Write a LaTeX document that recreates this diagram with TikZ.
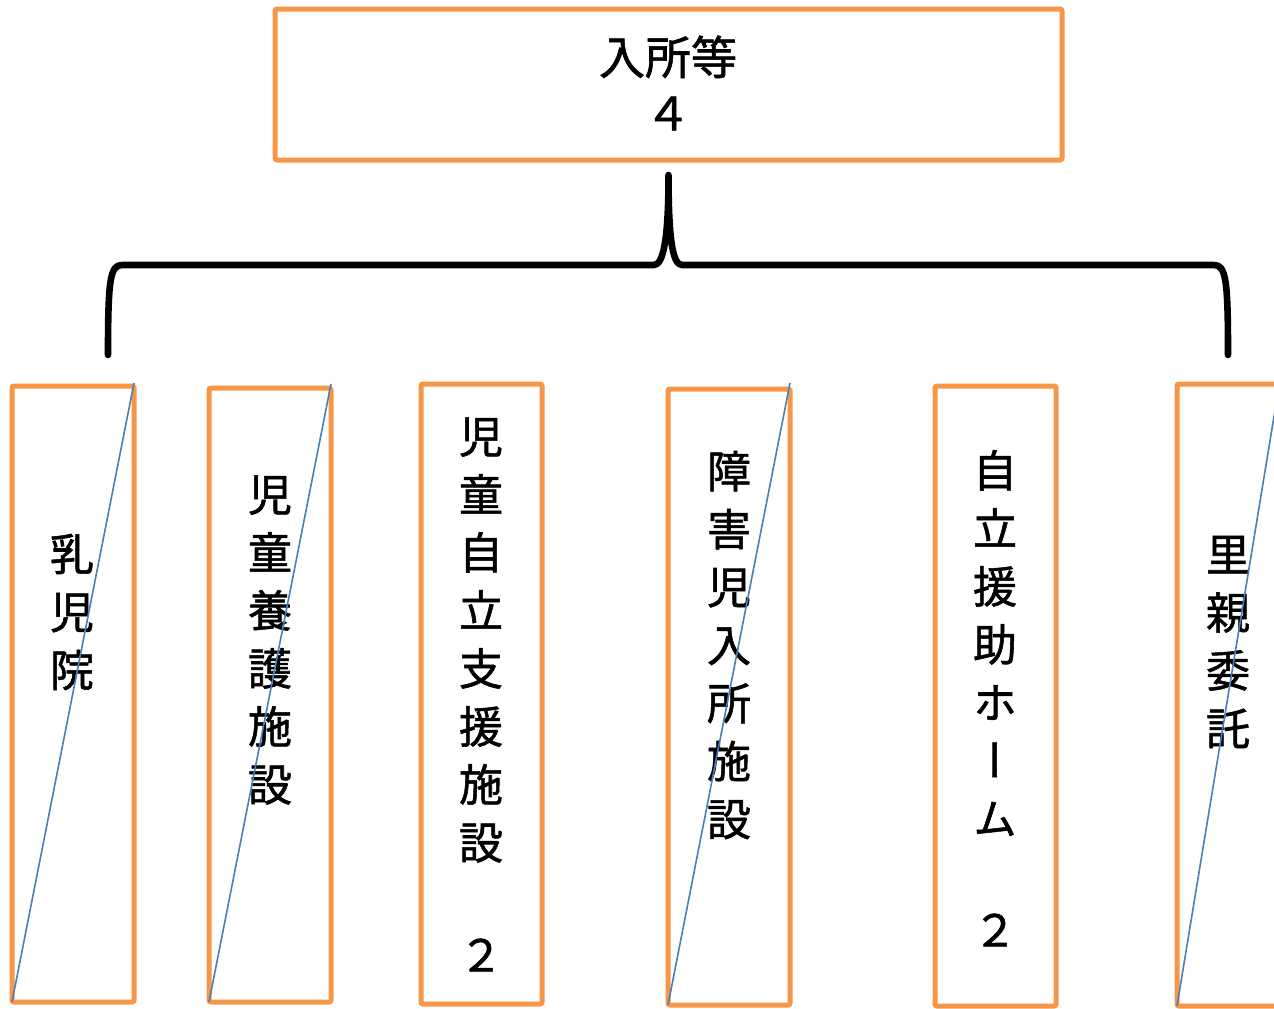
\documentclass[tikz,border=0pt]{standalone}
\usepackage{fontspec}
\setmainfont{Noto Sans CJK JP}
\newfontfamily\jpfont[RawFeature=+vert, FakeBold=1.2]{Noto Sans CJK JP}
\usepackage{xcolor}
\usepackage{tikz}
\usetikzlibrary{positioning}

\definecolor{boxorange}{HTML}{F79646}
\definecolor{slashblue}{HTML}{4A7EBB}

\begin{document}
\begin{tikzpicture}[
        x=0.5pt, y=-0.5pt,
        box/.style={draw=boxorange, line width=2.5pt, rounded corners=1pt, inner sep=0pt, outer sep=0pt, anchor=north west},
        vtext/.style={align=center, inner sep=0pt, font=\jpfont\fontsize{22}{29}\selectfont},
        slash/.style={draw=slashblue, line width=0.8pt},
        brace/.style={draw=black, line width=3.3pt, line cap=round, line join=round}
    ]
        \useasboundingbox (0,0) rectangle (1274,1008);

        % top box
        \node[box, minimum width=393.5pt, minimum height=75.5pt] (top) at (275,9) {};
        \node[vtext, font=\jpfont\fontsize{23}{28}\selectfont] (toplbl) at (668,83) {入所等\\４};

        % facility boxes
        \node[box, minimum width=61pt, minimum height=308pt] (b1) at (12,386) {};
        \node[box, minimum width=61pt, minimum height=307pt] (b2) at (209,388) {};
        \node[box, minimum width=60.5pt, minimum height=310pt] (b3) at (421,384) {};
        \node[box, minimum width=61pt, minimum height=308pt] (b4) at (668,389) {};
        \node[box, minimum width=60.5pt, minimum height=310pt] (b5) at (935,386) {};
        \node[box, minimum width=51.5pt, minimum height=311pt] (b6) at (1177,384) {};

        \node[vtext] (l1) at (72,612) {乳\\児\\院};
        \node[vtext] (l2) at (270,640) {児\\童\\養\\護\\施\\設};
        \node[vtext] (l3) at (481,640) {児\\童\\自\\立\\支\\援\\施\\設};
        \node[vtext] (n3) at (481,955) {２};
        \node[vtext] (l4) at (729,645) {障\\害\\児\\入\\所\\施\\設};
        \node[vtext] (l5) at (995,643) {自\\立\\援\\助\\ホ\\ー\\ム};
        \node[vtext] (n5) at (995,930) {２};
        \node[vtext] (l6) at (1228,642) {里\\親\\委\\託};

        % strike lines
        \draw[slash] (b1.south west) -- ([yshift=1.5pt]b1.north east);
        \draw[slash] (b2.south west) -- ([yshift=2pt]b2.north east);
        \draw[slash] (b4.south west) -- ([yshift=3pt]b4.north east);
        \draw[slash] (b6.south west) -- ([yshift=2pt]b6.north east);

        % brace
        \coordinate (tip) at ([yshift=-7.5pt]top.south);
        \coordinate (bl) at (108,355);
        \coordinate (br) at (1228,355);
        \draw[brace] (bl) .. controls +(0,-75) and +(-12,0) .. (122,265) -- (654,265)
            .. controls +(10,0) and +(0,60) .. (tip)
            .. controls +(0,60) and +(-10,0) .. (682,265) -- (1214,265)
            .. controls +(12,0) and +(0,-75) .. (br);

    \end{tikzpicture}
\end{document}
